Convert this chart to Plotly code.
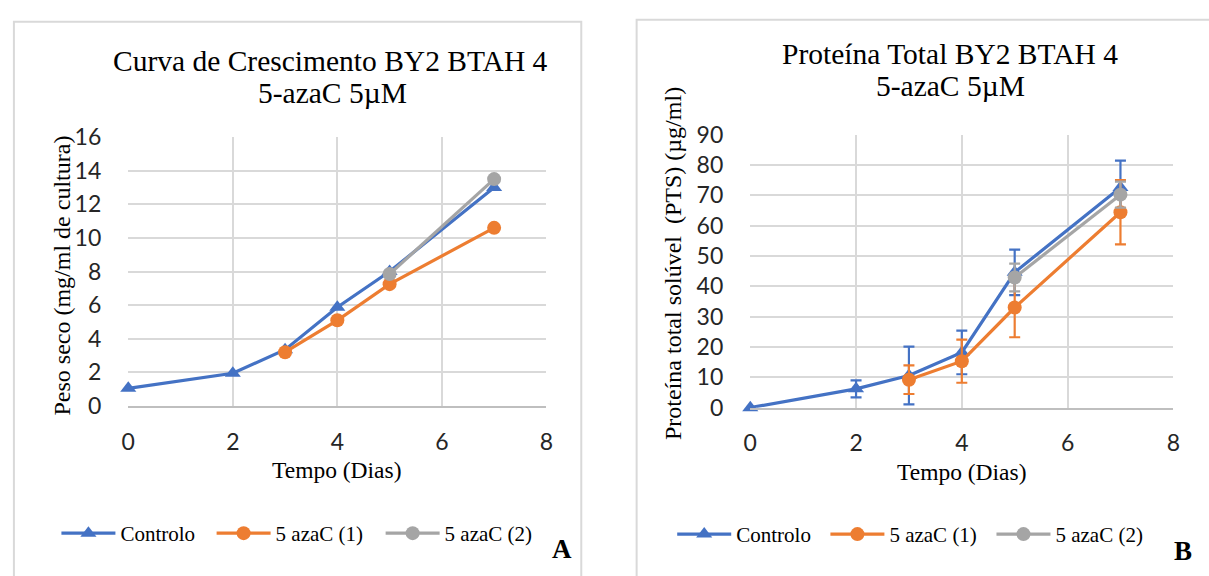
import plotly.graph_objects as go

W, H = 1209, 576

# ---------------- data ----------------
series_names = ["Controlo", "5 azaC (1)", "5 azaC (2)"]
colors = ["#4472C4", "#ED7D31", "#A5A5A5"]
symbols = ["triangle-up", "circle", "circle"]

# Chart A: Peso seco (mg/ml de cultura)
dias_ctrl = [0, 2, 3, 4, 5, 7]
peso_ctrl = [1.05, 1.95, 3.35, 5.88, 8.0, 13.0]
dias_aza1 = [3, 4, 5, 7]
peso_aza1 = [3.2, 5.1, 7.25, 10.6]
dias_aza2 = [5, 7]
peso_aza2 = [7.85, 13.5]

# Chart B: Proteína total solúvel (µg/ml) with error bars
prot_ctrl = [0, 6.2, 10.6, 18.2, 44.6, 72.6]
err_ctrl = [0, 2.8, 9.5, 7.2, 7.5, 8.8]
prot_aza1 = [9.2, 15.3, 33.0, 64.4]
err_aza1 = [4.7, 7.1, 9.8, 10.6]
prot_aza2 = [42.9, 70.2]
err_aza2 = [4.6, 4.3]

x_ticks = [0, 2, 4, 6, 8]
yA_ticks = [0, 2, 4, 6, 8, 10, 12, 14, 16]
yB_ticks = [0, 10, 20, 30, 40, 50, 60, 70, 80, 90]

title_A = ["Curva de Crescimento BY2 BTAH 4", "5-azaC 5µM"]
title_B = ["Proteína Total BY2 BTAH 4", "5-azaC 5µM"]
xtitle = "Tempo (Dias)"
ytitle_A = "Peso seco (mg/ml de cultura)"
ytitle_B = "Proteína total solúvel  (PTS) (µg/ml)"

SERIF = "Liberation Serif, Times New Roman, serif"
SANS = "Lato, Carlito, Calibri, sans-serif"

def px(x):
    return x / W

def py(y):
    return 1 - y / H

fig = go.Figure()

groups_A = [(dias_ctrl, peso_ctrl), (dias_aza1, peso_aza1), (dias_aza2, peso_aza2)]
groups_B = [(dias_ctrl, prot_ctrl, err_ctrl), (dias_aza1, prot_aza1, err_aza1),
            (dias_aza2, prot_aza2, err_aza2)]
msize = [14, 14, 14]

for i, (xs, ys) in enumerate(groups_A):
    fig.add_trace(go.Scatter(
        x=xs, y=ys, name=series_names[i], mode="lines+markers",
        line=dict(color=colors[i], width=3.2),
        marker=dict(color=colors[i], symbol=symbols[i], size=msize[i]),
        xaxis="x", yaxis="y", cliponaxis=False,
        legend="legend" if i == 0 else f"legend{i + 1}",
    ))

for i, (xs, ys, es) in enumerate(groups_B):
    fig.add_trace(go.Scatter(
        x=xs, y=ys, name=series_names[i], mode="lines+markers",
        line=dict(color=colors[i], width=3.2),
        marker=dict(color=colors[i], symbol=symbols[i], size=msize[i]),
        error_y=dict(type="data", array=es, visible=True, color=colors[i],
                     thickness=2.2, width=5.5),
        xaxis="x2", yaxis="y2", cliponaxis=False,
        legend=f"legend{i + 4}",
    ))

axis_common = dict(
    showgrid=True, gridcolor="#D9D9D9", gridwidth=1.5,
    zeroline=False, ticks="", fixedrange=True,
    tickfont=dict(family=SANS, size=23, color="#262626"),
)

fig.update_layout(
    width=W, height=H,
    margin=dict(l=0, r=0, t=0, b=0),
    paper_bgcolor="white", plot_bgcolor="white",
    showlegend=True,
    xaxis=dict(domain=[px(122.7), px(545.7)], range=[0, 8], tickvals=x_ticks,
               showline=True, linecolor="#BFBFBF", linewidth=2,
               ticklabelstandoff=14, anchor="y", **axis_common),
    yaxis=dict(domain=[py(411), py(128.3)], range=[0, 16], tickvals=yA_ticks,
               showline=False, ticklabelstandoff=26, anchor="x", **axis_common),
    xaxis2=dict(domain=[px(752), px(1180)], range=[0, 8], tickvals=x_ticks,
                showline=True, linecolor="#BFBFBF", linewidth=2,
                ticklabelstandoff=14, anchor="y2", **axis_common),
    yaxis2=dict(domain=[py(412.7), py(125.7)], range=[0, 90], tickvals=yB_ticks,
                showline=False, ticklabelstandoff=26, anchor="x2", **axis_common),
)

# one legend per entry, positioned like the original
leg_pos = [(50, 545), (207, 545), (378, 545), (673, 546), (828, 546), (996, 546)]
for k, (lx, ly) in enumerate(leg_pos):
    key = "legend" if k == 0 else f"legend{k + 1}"
    fig.layout[key] = dict(
        x=px(lx), y=py(ly), xanchor="left", yanchor="middle",
        orientation="h", bgcolor="rgba(0,0,0,0)", borderwidth=0,
        font=dict(family=SERIF, size=21, color="#000000"),
        itemwidth=54, itemclick=False, itemdoubleclick=False,
    )

ann = []
def text(x, y, s, size, angle=0, bold=False):
    ann.append(dict(x=px(x), y=py(y), xref="paper", yref="paper", text=s,
                    showarrow=False, xanchor="center", yanchor="middle",
                    textangle=angle,
                    font=dict(family=SERIF, size=size, color="#000000",
                              weight="bold" if bold else "normal")))

text(327, 48, title_A[0], 29.5)
text(329, 82, title_A[1], 29.5)
text(954, 41, title_B[0], 29.5)
text(955, 75, title_B[1], 29.5)
text(334, 478, xtitle, 23.5)
text(966, 480, xtitle, 23.5)
text(55.5, 274, ytitle_A, 24, angle=-90)
text(674.5, 261, ytitle_B, 24, angle=-90)
text(561, 561, "A", 27, bold=True)
text(1190, 563, "B", 27, bold=True)
fig.update_layout(annotations=ann)

# chart frames
fig.update_layout(shapes=[
    dict(type="rect", xref="paper", yref="paper", x0=px(7), x1=px(581),
         y0=py(600), y1=py(7), line=dict(color="#D9D9D9", width=2), layer="below"),
    dict(type="rect", xref="paper", yref="paper", x0=px(637), x1=px(1230),
         y0=py(600), y1=py(5), line=dict(color="#D9D9D9", width=2), layer="below"),
])

fig.write_html("out.html")
